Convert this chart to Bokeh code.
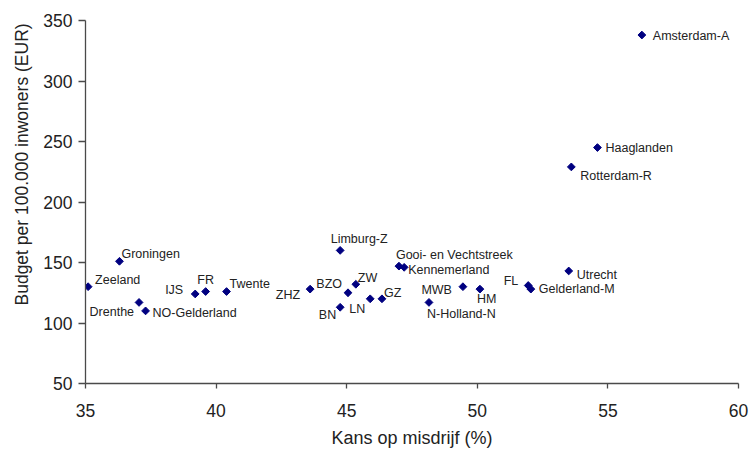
import numpy as np
from bokeh.plotting import figure
from bokeh.models import ColumnDataSource, FixedTicker, Title
from bokeh.core.properties import value
from bokeh.embed import file_html
from bokeh.resources import INLINE

# Data
names = ["Amsterdam-A", "Haaglanden", "Rotterdam-R", "Utrecht", "Gelderland-M", "FL",
         "HM", "MWB", "N-Holland-N", "Gooi- en Vechtstreek", "Kennemerland", "GZ",
         "LN", "ZW", "BZO", "BN", "ZHZ", "Limburg-Z", "Twente", "FR", "IJS",
         "NO-Gelderland", "Drenthe", "Zeeland", "Groningen"]
kans = [56.3, 54.6, 53.6, 53.5, 52.05, 51.95,
        50.1, 49.45, 48.15, 47.0, 47.2, 46.35,
        45.9, 45.35, 45.05, 44.75, 43.6, 44.75, 40.4, 39.6, 39.2,
        37.3, 37.05, 35.1, 36.3]
budget = [338, 245, 229, 143, 128, 131,
          128, 130, 117, 147, 146, 120,
          120, 132, 125, 113, 128, 160, 126, 126, 124,
          110, 117, 130, 151]
x_ticks = [35, 40, 45, 50, 55, 60]
y_ticks = [50, 100, 150, 200, 250, 300, 350]

# Label placement (screen pixels) and alignment
label_dx = [11, 8, 9, 8, 8, -10, -3, -11, -2, -3, 4, 2, -5, 2, -6, -4, -10, 19, 3, 0, -12, 7, -5, 7, 2]
label_dy = [1, 0, 9, 4, 0, -4, 10, 3, 12, -11, 3, -6, 10, -6, -9, 8, 6, -11, -8, -12, -4, 2, 10, -7, -7]
label_align = ["left", "left", "left", "left", "left", "right", "left", "right", "left", "left",
               "left", "left", "right", "left", "right", "right", "right", "center", "left",
               "center", "right", "left", "right", "left", "left"]

src = ColumnDataSource(dict(x=kans, y=budget, name=names, dx=label_dx, dy=label_dy, align=label_align))

FONT = "Liberation Sans"
AX = "#4a4a4a"

p = figure(width=749, height=452, output_backend="svg", toolbar_location=None,
           x_range=(35, 60), y_range=(50, 350),
           min_border_left=85, min_border_right=11, min_border_top=20, min_border_bottom=69)
p.outline_line_color = None
p.grid.visible = False
p.background_fill_color = "white"

p.scatter("x", "y", source=src, marker="square", angle=np.pi / 4, size=5.5,
          fill_color="#000080", line_color="#000080")
p.text("x", "y", text="name", source=src, x_offset="dx", y_offset="dy",
       text_align="align", text_baseline="middle",
       text_font=value(FONT), text_font_size="12.5px", text_color="#222222")

for ax in (p.xaxis[0], p.yaxis[0]):
    ax.axis_line_color = AX
    ax.axis_line_width = 1.3
    ax.major_tick_line_color = AX
    ax.major_tick_line_width = 1.3
    ax.minor_tick_line_color = None
    ax.major_tick_in = 0
    ax.major_label_text_font = FONT
    ax.major_label_text_font_size = "17.5px"
    ax.major_label_text_color = "#222222"

p.xaxis.ticker = FixedTicker(ticks=x_ticks)
p.yaxis.ticker = FixedTicker(ticks=y_ticks)
p.xaxis.major_tick_out = 5
p.yaxis.major_tick_out = 7
p.xaxis.major_label_standoff = 15
p.yaxis.major_label_standoff = 6

p.xaxis.axis_label = "Kans op misdrijf (%)"
p.xaxis.axis_label_text_font = FONT
p.xaxis.axis_label_text_font_size = "18px"
p.xaxis.axis_label_text_font_style = "normal"
p.xaxis.axis_label_text_color = "#222222"
p.xaxis.axis_label_standoff = 8

ytitle = Title(text="Budget per 100.000 inwoners (EUR)", align="left", offset=78,
               text_font=FONT, text_font_size="17.5px", text_font_style="normal",
               text_color="#222222", standoff=18)
p.add_layout(ytitle, "left")

open("out.html", "w").write(file_html(p, INLINE))
